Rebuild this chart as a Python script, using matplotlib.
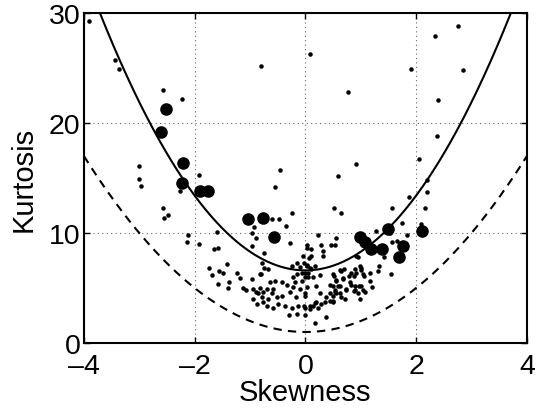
import numpy as np
import matplotlib
matplotlib.use("Agg")
import matplotlib.pyplot as plt

plt.rcParams['font.family'] = ['Liberation Sans', 'DejaVu Sans']

# Large markers
big_skew = [-2.52, -2.60, -2.21, -2.23, -1.90, -1.76, -1.03, -0.76, -0.56,
            0.98, 1.07, 1.19, 1.38, 1.49, 1.77, 1.69, 2.10]
big_kurt = [21.3, 19.2, 16.4, 14.5, 13.8, 13.8, 11.3, 11.4, 9.6,
            9.6, 9.2, 8.5, 8.5, 10.4, 8.8, 7.8, 10.2]

# Small markers
small_pts = [
    (-3.90, 29.3), (-3.43, 25.7), (-3.37, 24.9), (-2.58, 23.0), (-2.22, 22.2),
    (-3.00, 16.1), (-3.01, 14.9), (-2.97, 14.3), (-1.93, 15.3), (-2.27, 13.8),
    (-0.81, 25.2), (-0.46, 15.7), (-0.55, 14.2),
    (0.08, 26.3), (0.77, 22.8), (1.90, 24.9), (2.34, 27.9), (2.75, 28.8),
    (2.84, 24.8), (2.40, 22.1), (2.38, 18.8), (2.05, 16.7), (0.91, 16.3),
    (0.59, 15.2), (2.20, 14.8), (2.20, 13.7), (1.87, 13.3),
    (-2.57, 12.3), (-2.55, 11.4), (-2.48, 11.6), (-2.12, 9.8), (-2.13, 9.2),
    (-1.92, 9.0), (-1.60, 10.1), (-1.65, 8.5), (-1.57, 8.6), (-1.41, 7.2),
    (-1.74, 6.8), (-1.69, 6.2), (-1.56, 6.5), (-1.48, 6.4), (-1.57, 5.4),
    (-1.38, 5.5), (-1.39, 5.0), (-1.24, 6.4), (-1.18, 5.9), (-1.13, 5.0),
    (-1.08, 4.8), (-0.97, 5.8), (-0.92, 10.5), (-0.97, 10.0), (-0.90, 9.5),
    (-0.97, 8.8), (-0.74, 8.2), (-0.79, 7.3), (-0.75, 6.8), (-0.67, 6.7),
    (-0.80, 6.3), (-0.61, 11.3), (-0.48, 11.3), (-0.35, 10.6), (-0.24, 11.8),
    (-0.27, 9.1),
    (2.16, 12.3), (1.56, 12.3), (0.51, 12.3), (0.64, 11.8), (1.75, 10.9),
    (1.27, 10.2), (0.23, 9.8), (0.55, 9.5), (0.29, 8.9), (0.47, 8.9),
    (0.32, 8.4), (0.02, 8.6), (0.11, 8.5), (1.53, 10.0), (1.84, 9.8),
    (2.08, 10.8), (1.56, 9.2), (1.65, 9.3), (1.42, 7.8), (0.95, 7.8),
    (1.33, 7.0), (1.31, 6.5), (1.54, 6.3), (0.98, 7.0), (1.01, 6.6),
    (0.89, 6.7), (0.70, 6.7), (0.64, 6.5), (0.52, 6.1), (0.68, 5.9),
    (0.79, 6.1), (0.88, 6.1), (1.06, 6.1), (1.16, 5.6), (1.21, 5.1),
    (0.97, 5.2), (1.04, 4.8), (0.83, 5.3), (0.88, 4.7), (0.74, 4.9),
    (0.59, 5.2), (0.50, 5.2), (0.44, 4.5), (0.56, 4.5), (0.65, 4.2),
    (0.38, 4.2), (0.50, 3.7), (0.29, 3.5), (0.20, 3.7), (0.23, 3.2),
    (0.14, 3.4), (0.08, 3.1), (0.38, 2.4), (0.17, 1.8), (0.00, 3.2),
    (0.00, 4.3), (0.20, 5.2), (0.07, 7.7), (0.02, 7.0), (0.11, 6.7),
    (0.00, 6.4), (0.05, 6.0),
    (-0.82, 6.3), (-0.55, 5.6), (-0.64, 5.5), (-0.94, 4.9), (-0.82, 5.0),
    (-0.70, 4.9), (-0.58, 4.9), (-0.89, 4.6), (-0.76, 4.6),
    (-0.94, 4.0), (-0.85, 4.5), (-0.87, 3.5), (-0.76, 3.7), (-0.67, 4.0),
    (-0.70, 3.4), (-0.58, 3.2), (-0.61, 4.5), (-0.52, 4.2), (-0.79, 4.2),
    (-0.49, 3.5),
    (0.02, 8.9), (-0.04, 7.9), (0.11, 7.9), (0.32, 7.9), (-0.16, 7.3),
    (-0.03, 7.3), (0.03, 7.1), (-0.25, 7.0), (-0.10, 6.9), (0.09, 6.8),
    (0.17, 7.0), (-0.07, 6.4), (0.05, 6.4), (-0.16, 6.3), (-0.22, 6.0),
    (-0.01, 6.0), (0.14, 6.0), (0.26, 6.2), (0.50, 6.3), (-0.19, 5.5),
    (-0.07, 5.6), (-0.43, 5.5), (-0.34, 5.3), (-0.22, 5.1), (-0.10, 4.9),
    (0.02, 5.1), (0.44, 5.3), (0.56, 5.6), (0.53, 4.8),
    (-0.43, 4.3), (-0.28, 4.6), (-0.17, 4.2), (-0.01, 4.5), (-0.37, 3.4),
    (-0.25, 3.2), (-0.13, 3.4), (-0.03, 3.4), (0.08, 3.4), (0.17, 3.6),
    (0.26, 4.5), (0.35, 3.7), (0.44, 3.8), (0.50, 4.3), (-0.29, 2.5),
    (-0.16, 2.6), (-0.01, 2.5),
    (0.53, 8.9), (0.92, 7.9), (0.62, 6.6), (0.83, 6.4), (1.01, 6.8),
    (0.92, 6.4), (1.04, 6.3), (1.16, 6.4), (0.56, 5.7), (0.68, 5.8),
    (0.62, 5.2), (0.80, 5.5), (0.89, 5.2), (1.01, 5.2), (0.74, 4.8),
    (0.89, 4.8), (1.07, 4.6), (0.53, 4.6), (0.62, 4.5), (0.95, 4.5),
    (0.71, 4.0), (0.98, 4.0), (0.50, 3.8),
]
small_skew = [p[0] for p in small_pts]
small_kurt = [p[1] for p in small_pts]

# Parabola parameters (kurtosis = a * skew^2 + b)
fit_a, fit_b = 1.7, 6.6
bound_a, bound_b = 1.0, 1.0

xticks = [-4, -2, 0, 2, 4]
yticks = [0, 10, 20, 30]

fig = plt.figure(figsize=(5.41, 4.10), dpi=100)
ax = fig.add_axes([0.155, 0.161, 0.819, 0.805])

xs = np.linspace(-4, 4, 400)
ax.plot(xs, fit_a * xs**2 + fit_b, color='black', lw=1.5, zorder=3)
ax.plot(xs, bound_a * xs**2 + bound_b, color='black', lw=1.5,
        linestyle=(0, (4, 3)), zorder=3)

ax.scatter(small_skew, small_kurt, s=10.5, color='black', lw=0, zorder=4)
ax.scatter(big_skew, big_kurt, s=82, color='black', lw=0, zorder=4)

ax.set_xlim(-4, 4)
ax.set_ylim(0, 30)
ax.set_xticks(xticks)
ax.set_yticks(yticks)
ax.set_xticklabels([f"{t}".replace('-', '\u2013') for t in xticks])
ax.grid(True, linestyle=(0, (1, 3)), color='#666666', lw=0.8)
ax.tick_params(direction='in', top=True, right=True, length=4, width=1.0,
               labelsize=20.5)
ax.tick_params(axis='x', pad=7.5)
ax.tick_params(axis='y', pad=2.5)
for sp in ax.spines.values():
    sp.set_linewidth(1.5)
ax.set_xlabel('Skewness', fontsize=21, labelpad=-1)
ax.set_ylabel('Kurtosis', fontsize=21, labelpad=8)

fig.savefig('out.png', dpi=100)
